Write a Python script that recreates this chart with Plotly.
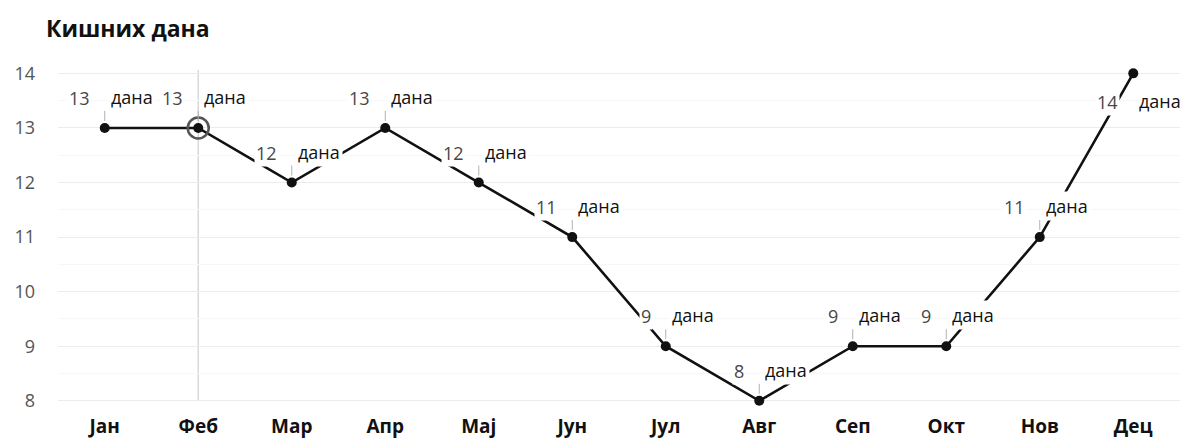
import plotly.graph_objects as go

# Monthly count of rainy days
months = ["Јан", "Феб", "Мар", "Апр", "Мај", "Јун", "Јул", "Авг", "Сеп", "Окт", "Нов", "Дец"]
rain_days = [13, 13, 12, 13, 12, 11, 9, 8, 9, 9, 11, 14]
unit = "дана"
highlight = "Феб"
labels_below = ["Дец"]
title_text = "Кишних дана"

FONT = "Open Sans, Noto Sans, sans-serif"

fig = go.Figure()

# vertical marker line on the highlighted month
fig.add_shape(type="line", xref="x", yref="y", x0=highlight, x1=highlight,
              y0=8, y1=14.06, line=dict(color="#d9d9d9", width=1.5), layer="below")

fig.add_trace(go.Scatter(
    x=months, y=rain_days, mode="lines+markers",
    line=dict(color="#111111", width=2.6),
    marker=dict(color="#111111", size=10),
    hoverinfo="skip", showlegend=False,
))

# ring around the highlighted point
hv = rain_days[months.index(highlight)]
fig.add_trace(go.Scatter(
    x=[highlight], y=[hv], mode="markers",
    marker=dict(size=21, color="rgba(255,255,255,0)", line=dict(color="#555555", width=2.5)),
    hoverinfo="skip", showlegend=False,
))

# short leader ticks above each labelled point
for m, v in zip(months, rain_days):
    if m in labels_below:
        continue
    fig.add_shape(type="line", xref="x", yref="y", x0=m, x1=m,
                  ysizemode="pixel", yanchor=v, y0=7, y1=17,
                  line=dict(color="#b0b0b0", width=1))

# value numbers
for m, v in zip(months, rain_days):
    shift = -29 if m in labels_below else 30
    fig.add_annotation(x=m, y=v, text=str(v), showarrow=False,
                       xanchor="right", xshift=-13, yshift=shift,
                       font=dict(family=FONT, size=18, color="#474747"),
                       bgcolor="white", borderpad=1)

# unit words
for m, v in zip(months, rain_days):
    shift = -28 if m in labels_below else 31
    fig.add_annotation(x=m, y=v, text=unit, showarrow=False,
                       xanchor="left", xshift=3, yshift=shift,
                       font=dict(family=FONT, size=18, color="#111111"),
                       bgcolor="white", borderpad=2)

fig.update_layout(
    width=1182, height=441,
    margin=dict(l=58, r=2, t=57, b=29),
    paper_bgcolor="white", plot_bgcolor="white",
    title=dict(text="<b>" + title_text + "</b>", x=46 / 1182, xanchor="left",
               xref="container", y=1 - 29 / 441, yanchor="middle", yref="container",
               font=dict(family=FONT, size=23, color="#111111")),
    showlegend=False,
    xaxis=dict(
        type="category", categoryorder="array", categoryarray=months,
        range=[-0.5, 11.5], showgrid=False, zeroline=False, showline=False,
        ticks="", ticklabelstandoff=4,
        tickfont=dict(family=FONT, size=19, color="#111111", weight="bold"),
    ),
    yaxis=dict(
        range=[7.85, 14.3], dtick=1, tick0=8,
        showgrid=True, gridcolor="#ececec", gridwidth=1,
        zeroline=False, showline=False, ticks="", ticklabelstandoff=22,
        tickfont=dict(family=FONT, size=18, color="#555555"),
        minor=dict(dtick=0.5, tick0=8, showgrid=True, gridcolor="#f7f7f7", gridwidth=1),
    ),
)

fig.write_html("out.html")
